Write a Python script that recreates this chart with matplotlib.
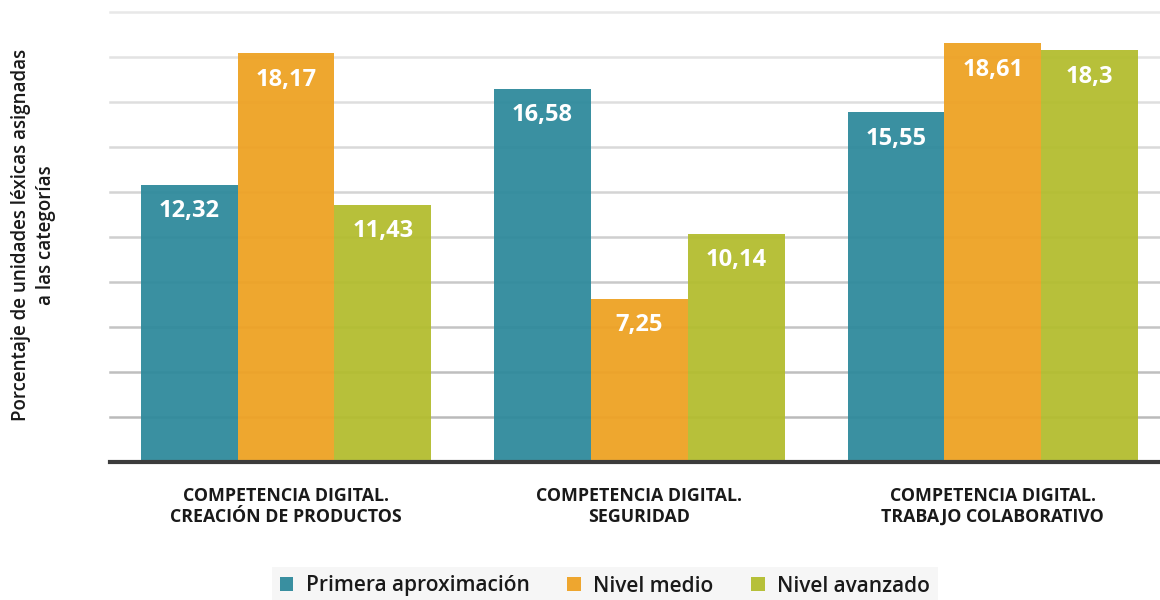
import matplotlib.pyplot as plt
import numpy as np

categorias = ['COMPETENCIA DIGITAL.\nCREACIÓN DE PRODUCTOS',
              'COMPETENCIA DIGITAL.\nSEGURIDAD',
              'COMPETENCIA DIGITAL.\nTRABAJO COLABORATIVO']
series = ['Primera aproximación', 'Nivel medio', 'Nivel avanzado']
primera = [12.32, 16.58, 15.55]
medio = [18.17, 7.25, 18.61]
avanzado = [11.43, 10.14, 18.3]
etiquetas = [['12,32', '16,58', '15,55'],
             ['18,17', '7,25', '18,61'],
             ['11,43', '10,14', '18,3']]

colores = ['#2f8a9c', '#eea224', '#b3bd2f']

plt.rcParams['font.family'] = ['Open Sans', 'DejaVu Sans']

fig = plt.figure(figsize=(11.6, 6), dpi=100)
ax = fig.add_axes([110 / 1160, 1 - 462 / 600, 1050 / 1160, 450 / 600])

x = np.arange(len(categorias))
w = 0.274
valores = [primera, medio, avanzado]

# lineas de fondo, mas oscuras abajo
niveles = np.arange(2, 21, 2)
for i, n in enumerate(niveles):
    g = 0.73 + 0.18 * i / (len(niveles) - 1)
    ax.axhline(n, color=(g, g, g), lw=1.8, zorder=0, clip_on=False)

for k in range(3):
    pos = x + (k - 1) * w
    ax.bar(pos, valores[k], width=w, color=colores[k], alpha=0.95,
           label=series[k], zorder=2)
    for p, v, t in zip(pos, valores[k], etiquetas[k]):
        ax.annotate(t, (p, v), xytext=(0, -19), textcoords='offset points',
                    ha='center', va='center', color='white', fontsize=17,
                    fontweight='bold', zorder=3)

ax.axhline(0, color='#3c3c3c', lw=3, zorder=4, clip_on=False)
ax.set_xlim(-0.498, 2.473)
ax.set_ylim(0, 20)
ax.set_yticks([])
ax.set_xticks(x)
ax.set_xticklabels(categorias, fontsize=12.8, fontweight='bold', color='#1a1a1a',
                   linespacing=1.22)
ax.tick_params(axis='x', length=0, pad=18)
for s in ax.spines.values():
    s.set_visible(False)

fig.text(0.029, 1 - 235 / 600,
         'Porcentaje de unidades léxicas asignadas\na las categorías',
         rotation=90, ha='center', va='center', fontsize=13.5,
         fontweight='semibold', color='#1a1a1a', linespacing=1.3)

leg = fig.legend(loc='center', bbox_to_anchor=(605 / 1160, 1 - 586 / 600),
                 ncol=3, frameon=True, fontsize=15, handlelength=0.65,
                 handleheight=0.65, handletextpad=0.6, columnspacing=1.8,
                 borderpad=0.4, fancybox=False)
leg.get_frame().set_facecolor('#f4f4f4')
leg.get_frame().set_edgecolor('none')
for t in leg.get_texts():
    t.set_fontweight('semibold')
    t.set_color('#1a1a1a')

fig.savefig('out.png', dpi=100)
